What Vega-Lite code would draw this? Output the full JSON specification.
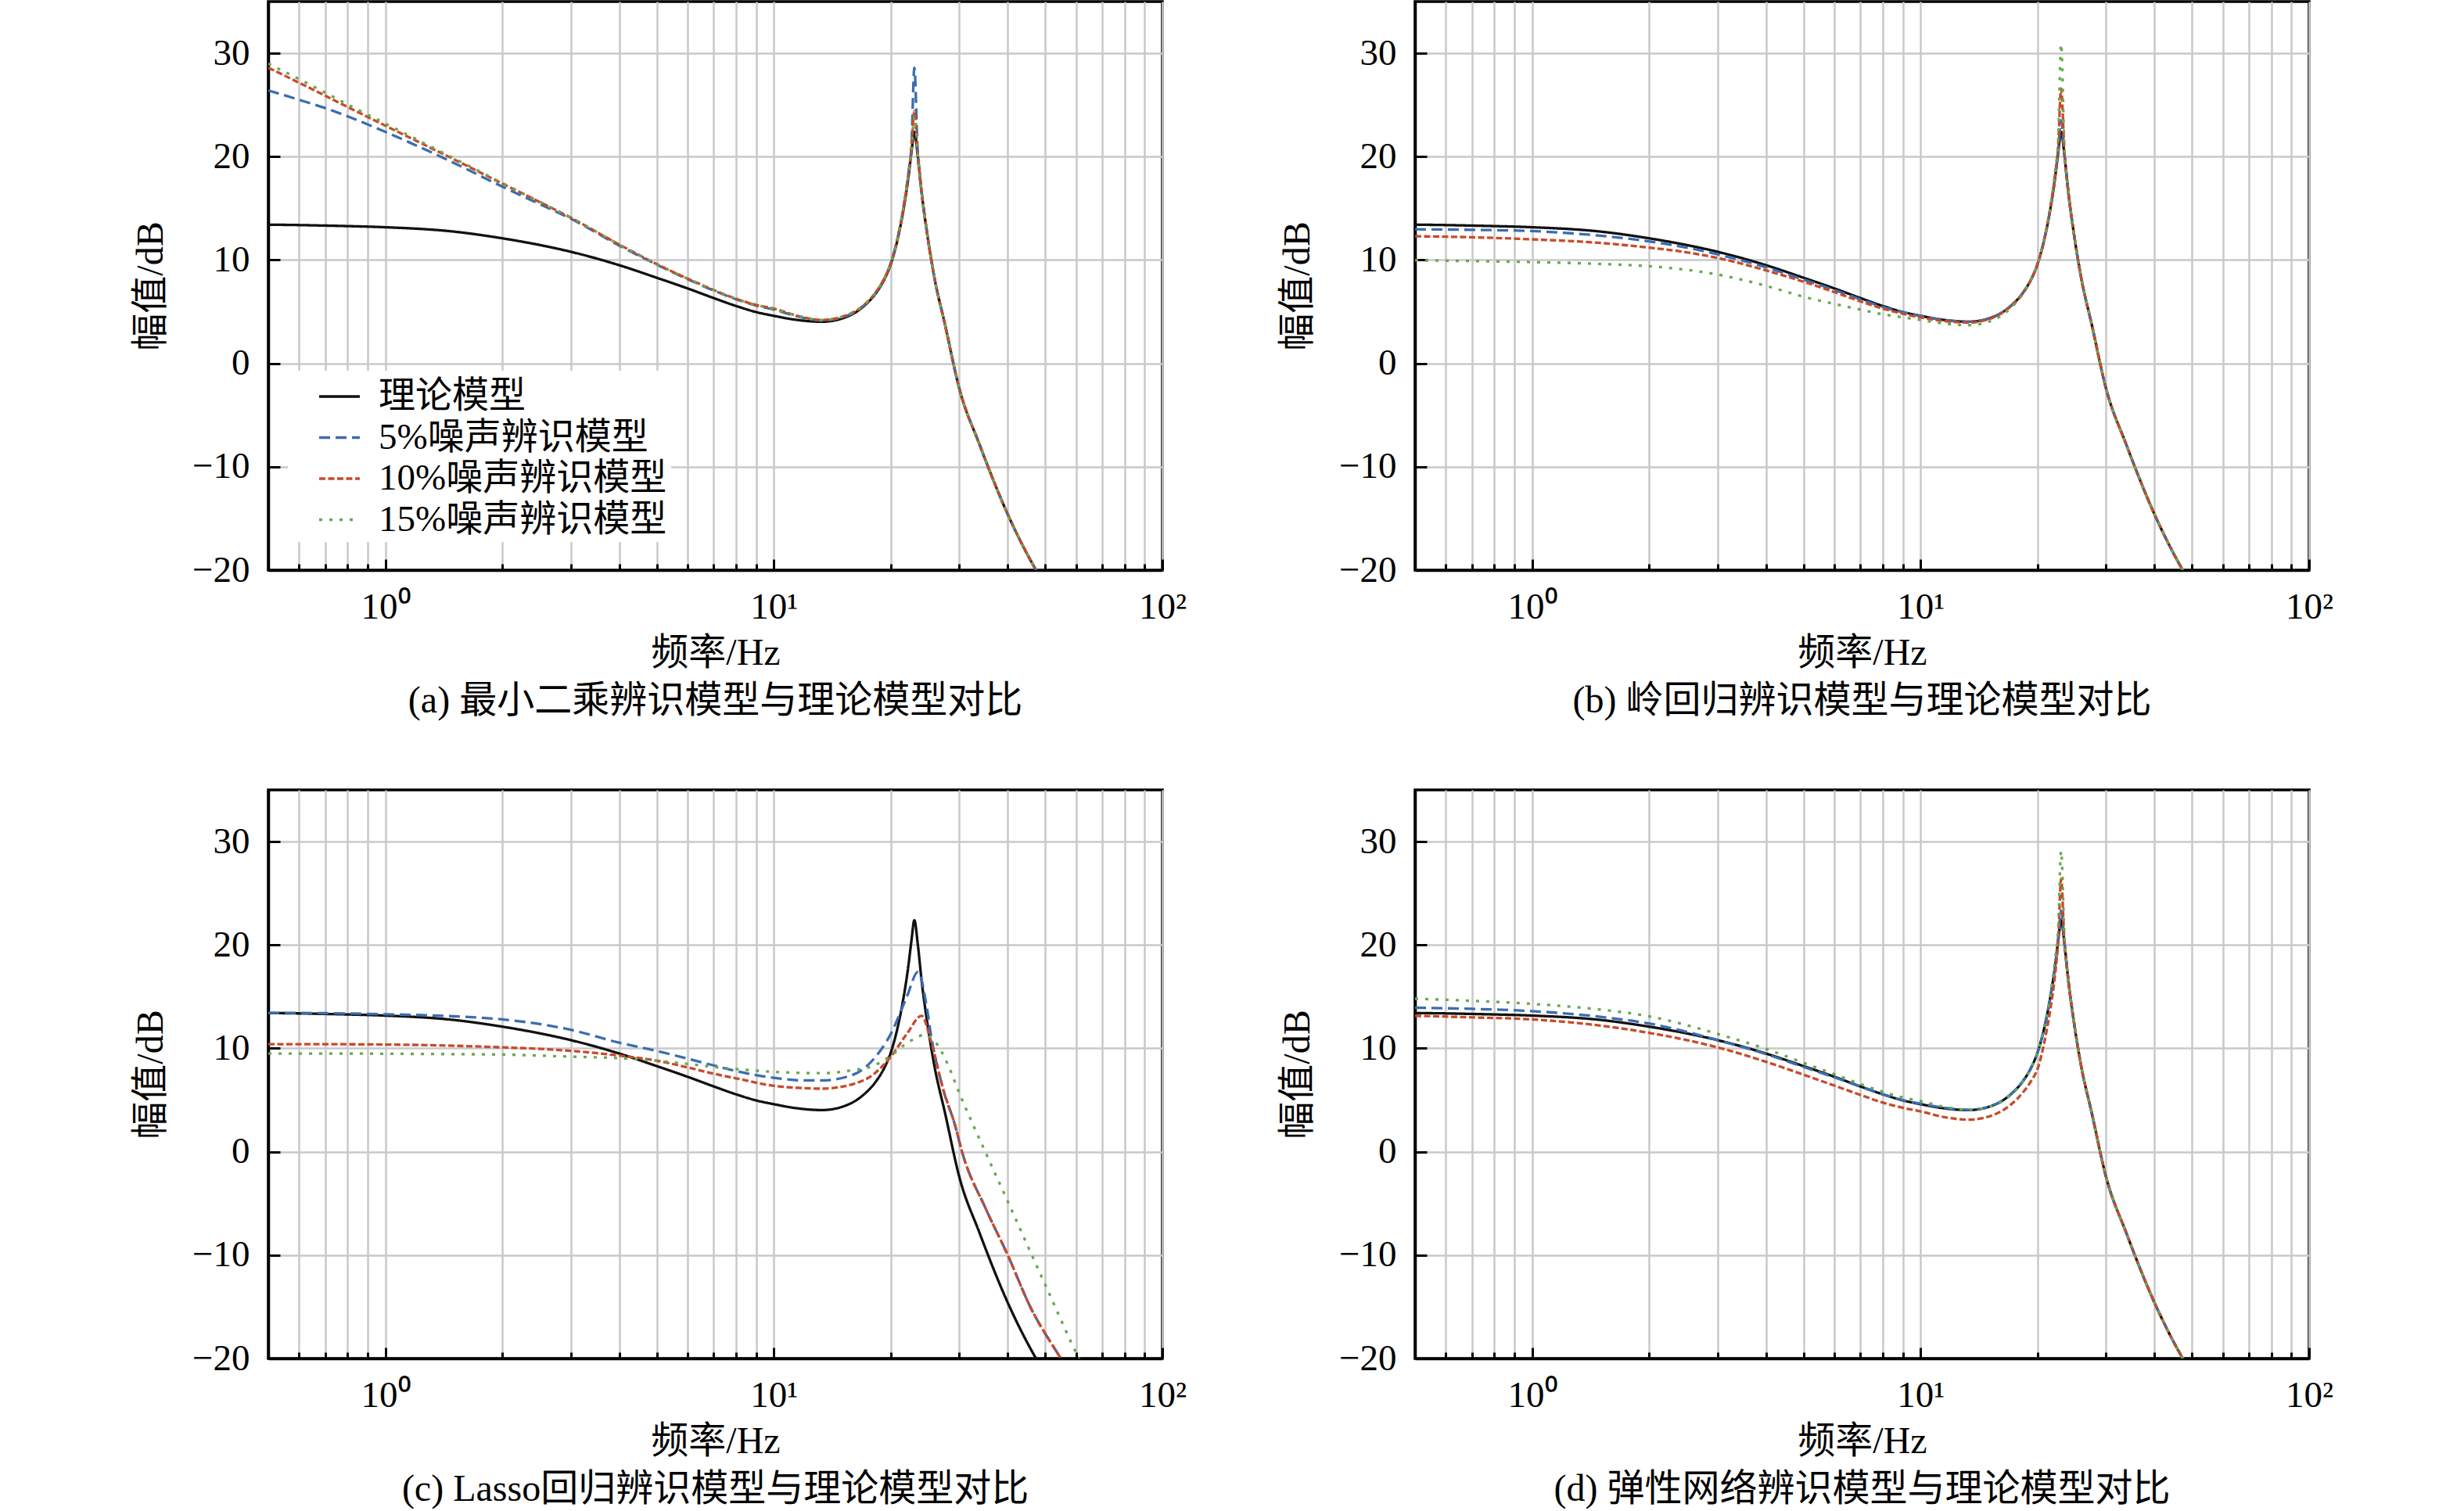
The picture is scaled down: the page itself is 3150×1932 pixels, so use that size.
{
  "$schema": "https://vega.github.io/schema/vega-lite/v6.json",
  "padding": {"left": 167, "top": 0, "right": 0, "bottom": 0},
  "background": "white",
  "datasets": {
    "theory": [
      {"model": "理论模型", "f": 0.5, "db": 13.42}, {"model": "理论模型", "f": 0.6, "db": 13.38},
      {"model": "理论模型", "f": 0.7, "db": 13.33}, {"model": "理论模型", "f": 0.8, "db": 13.28},
      {"model": "理论模型", "f": 1, "db": 13.17}, {"model": "理论模型", "f": 1.5, "db": 12.75},
      {"model": "理论模型", "f": 2, "db": 12.1}, {"model": "理论模型", "f": 2.5, "db": 11.45},
      {"model": "理论模型", "f": 3, "db": 10.8}, {"model": "理论模型", "f": 4, "db": 9.5},
      {"model": "理论模型", "f": 5, "db": 8.28}, {"model": "理论模型", "f": 6, "db": 7.25},
      {"model": "理论模型", "f": 7, "db": 6.32}, {"model": "理论模型", "f": 8, "db": 5.55},
      {"model": "理论模型", "f": 9, "db": 4.97}, {"model": "理论模型", "f": 10, "db": 4.6},
      {"model": "理论模型", "f": 11.5, "db": 4.2}, {"model": "理论模型", "f": 13.3, "db": 4.03},
      {"model": "理论模型", "f": 15.5, "db": 4.55}, {"model": "理论模型", "f": 17, "db": 5.5},
      {"model": "理论模型", "f": 18.4, "db": 6.9}, {"model": "理论模型", "f": 19.3, "db": 8.2},
      {"model": "理论模型", "f": 20, "db": 9.6}, {"model": "理论模型", "f": 20.85, "db": 12.1},
      {"model": "理论模型", "f": 21.5, "db": 14.6}, {"model": "理论模型", "f": 22.2, "db": 18.0},
      {"model": "理论模型", "f": 22.6, "db": 20.4}, {"model": "理论模型", "f": 23.0, "db": 22.4},
      {"model": "理论模型", "f": 23.45, "db": 20.2}, {"model": "理论模型", "f": 24.0, "db": 16.6},
      {"model": "理论模型", "f": 24.8, "db": 12.6}, {"model": "理论模型", "f": 25.9, "db": 8.3},
      {"model": "理论模型", "f": 27.6, "db": 3.7}, {"model": "理论模型", "f": 30, "db": -2.4},
      {"model": "理论模型", "f": 33.8, "db": -7.8}, {"model": "理论模型", "f": 40, "db": -14.6},
      {"model": "理论模型", "f": 47.3, "db": -20.0}, {"model": "理论模型", "f": 50, "db": -21.5}
    ],
    "noise": [
      {"panel": "a", "model": "5%噪声辨识模型", "f": 0.5, "db": 26.4}, {"panel": "a", "model": "5%噪声辨识模型", "f": 0.6, "db": 25.5},
      {"panel": "a", "model": "5%噪声辨识模型", "f": 0.7, "db": 24.7}, {"panel": "a", "model": "5%噪声辨识模型", "f": 0.8, "db": 23.9},
      {"panel": "a", "model": "5%噪声辨识模型", "f": 1, "db": 22.4}, {"panel": "a", "model": "5%噪声辨识模型", "f": 1.5, "db": 19.4},
      {"panel": "a", "model": "5%噪声辨识模型", "f": 2, "db": 17.1}, {"panel": "a", "model": "5%噪声辨识模型", "f": 2.5, "db": 15.4},
      {"panel": "a", "model": "5%噪声辨识模型", "f": 3, "db": 14.0}, {"panel": "a", "model": "5%噪声辨识模型", "f": 4, "db": 11.4},
      {"panel": "a", "model": "5%噪声辨识模型", "f": 5, "db": 9.55}, {"panel": "a", "model": "5%噪声辨识模型", "f": 6, "db": 8.15},
      {"panel": "a", "model": "5%噪声辨识模型", "f": 7, "db": 7.05}, {"panel": "a", "model": "5%噪声辨识模型", "f": 8, "db": 6.2},
      {"panel": "a", "model": "5%噪声辨识模型", "f": 9, "db": 5.6}, {"panel": "a", "model": "5%噪声辨识模型", "f": 10, "db": 5.2},
      {"panel": "a", "model": "5%噪声辨识模型", "f": 11.5, "db": 4.55}, {"panel": "a", "model": "5%噪声辨识模型", "f": 13.3, "db": 4.15},
      {"panel": "a", "model": "5%噪声辨识模型", "f": 15.5, "db": 4.65}, {"panel": "a", "model": "5%噪声辨识模型", "f": 17, "db": 5.55},
      {"panel": "a", "model": "5%噪声辨识模型", "f": 18.4, "db": 7.0}, {"panel": "a", "model": "5%噪声辨识模型", "f": 19.3, "db": 8.3},
      {"panel": "a", "model": "5%噪声辨识模型", "f": 20, "db": 9.7}, {"panel": "a", "model": "5%噪声辨识模型", "f": 20.85, "db": 12.2},
      {"panel": "a", "model": "5%噪声辨识模型", "f": 21.5, "db": 14.8}, {"panel": "a", "model": "5%噪声辨识模型", "f": 22.2, "db": 18.4},
      {"panel": "a", "model": "5%噪声辨识模型", "f": 22.6, "db": 21.0}, {"panel": "a", "model": "5%噪声辨识模型", "f": 23.0, "db": 28.6},
      {"panel": "a", "model": "5%噪声辨识模型", "f": 23.45, "db": 20.6}, {"panel": "a", "model": "5%噪声辨识模型", "f": 24.0, "db": 16.6},
      {"panel": "a", "model": "5%噪声辨识模型", "f": 24.8, "db": 12.6}, {"panel": "a", "model": "5%噪声辨识模型", "f": 25.9, "db": 8.3},
      {"panel": "a", "model": "5%噪声辨识模型", "f": 27.6, "db": 3.7}, {"panel": "a", "model": "5%噪声辨识模型", "f": 30, "db": -2.4},
      {"panel": "a", "model": "5%噪声辨识模型", "f": 33.8, "db": -7.8}, {"panel": "a", "model": "5%噪声辨识模型", "f": 40, "db": -14.6},
      {"panel": "a", "model": "5%噪声辨识模型", "f": 47.3, "db": -20.0}, {"panel": "a", "model": "5%噪声辨识模型", "f": 50, "db": -21.5},

      {"panel": "a", "model": "10%噪声辨识模型", "f": 0.5, "db": 28.6}, {"panel": "a", "model": "10%噪声辨识模型", "f": 0.6, "db": 27.15},
      {"panel": "a", "model": "10%噪声辨识模型", "f": 0.7, "db": 25.9}, {"panel": "a", "model": "10%噪声辨识模型", "f": 0.8, "db": 24.8},
      {"panel": "a", "model": "10%噪声辨识模型", "f": 1, "db": 23.0}, {"panel": "a", "model": "10%噪声辨识模型", "f": 1.5, "db": 19.75},
      {"panel": "a", "model": "10%噪声辨识模型", "f": 2, "db": 17.4}, {"panel": "a", "model": "10%噪声辨识模型", "f": 2.5, "db": 15.6},
      {"panel": "a", "model": "10%噪声辨识模型", "f": 3, "db": 14.1}, {"panel": "a", "model": "10%噪声辨识模型", "f": 4, "db": 11.5},
      {"panel": "a", "model": "10%噪声辨识模型", "f": 5, "db": 9.6}, {"panel": "a", "model": "10%噪声辨识模型", "f": 6, "db": 8.2},
      {"panel": "a", "model": "10%噪声辨识模型", "f": 7, "db": 7.1}, {"panel": "a", "model": "10%噪声辨识模型", "f": 8, "db": 6.25},
      {"panel": "a", "model": "10%噪声辨识模型", "f": 9, "db": 5.65}, {"panel": "a", "model": "10%噪声辨识模型", "f": 10, "db": 5.3},
      {"panel": "a", "model": "10%噪声辨识模型", "f": 11.5, "db": 4.6}, {"panel": "a", "model": "10%噪声辨识模型", "f": 13.3, "db": 4.2},
      {"panel": "a", "model": "10%噪声辨识模型", "f": 15.5, "db": 4.7}, {"panel": "a", "model": "10%噪声辨识模型", "f": 17, "db": 5.6},
      {"panel": "a", "model": "10%噪声辨识模型", "f": 18.4, "db": 7.0}, {"panel": "a", "model": "10%噪声辨识模型", "f": 19.3, "db": 8.3},
      {"panel": "a", "model": "10%噪声辨识模型", "f": 20, "db": 9.7}, {"panel": "a", "model": "10%噪声辨识模型", "f": 20.85, "db": 12.2},
      {"panel": "a", "model": "10%噪声辨识模型", "f": 21.5, "db": 14.8}, {"panel": "a", "model": "10%噪声辨识模型", "f": 22.2, "db": 18.3},
      {"panel": "a", "model": "10%噪声辨识模型", "f": 22.6, "db": 20.8}, {"panel": "a", "model": "10%噪声辨识模型", "f": 23.0, "db": 24.4},
      {"panel": "a", "model": "10%噪声辨识模型", "f": 23.45, "db": 20.4}, {"panel": "a", "model": "10%噪声辨识模型", "f": 24.0, "db": 16.6},
      {"panel": "a", "model": "10%噪声辨识模型", "f": 24.8, "db": 12.6}, {"panel": "a", "model": "10%噪声辨识模型", "f": 25.9, "db": 8.3},
      {"panel": "a", "model": "10%噪声辨识模型", "f": 27.6, "db": 3.7}, {"panel": "a", "model": "10%噪声辨识模型", "f": 30, "db": -2.4},
      {"panel": "a", "model": "10%噪声辨识模型", "f": 33.8, "db": -7.8}, {"panel": "a", "model": "10%噪声辨识模型", "f": 40, "db": -14.6},
      {"panel": "a", "model": "10%噪声辨识模型", "f": 47.3, "db": -20.0}, {"panel": "a", "model": "10%噪声辨识模型", "f": 50, "db": -21.5},

      {"panel": "a", "model": "15%噪声辨识模型", "f": 0.5, "db": 29.0}, {"panel": "a", "model": "15%噪声辨识模型", "f": 0.6, "db": 27.5},
      {"panel": "a", "model": "15%噪声辨识模型", "f": 0.7, "db": 26.2}, {"panel": "a", "model": "15%噪声辨识模型", "f": 0.8, "db": 25.05},
      {"panel": "a", "model": "15%噪声辨识模型", "f": 1, "db": 23.2}, {"panel": "a", "model": "15%噪声辨识模型", "f": 1.5, "db": 19.85},
      {"panel": "a", "model": "15%噪声辨识模型", "f": 2, "db": 17.45}, {"panel": "a", "model": "15%噪声辨识模型", "f": 2.5, "db": 15.62},
      {"panel": "a", "model": "15%噪声辨识模型", "f": 3, "db": 14.12}, {"panel": "a", "model": "15%噪声辨识模型", "f": 4, "db": 11.5},
      {"panel": "a", "model": "15%噪声辨识模型", "f": 5, "db": 9.6}, {"panel": "a", "model": "15%噪声辨识模型", "f": 6, "db": 8.2},
      {"panel": "a", "model": "15%噪声辨识模型", "f": 7, "db": 7.1}, {"panel": "a", "model": "15%噪声辨识模型", "f": 8, "db": 6.25},
      {"panel": "a", "model": "15%噪声辨识模型", "f": 9, "db": 5.65}, {"panel": "a", "model": "15%噪声辨识模型", "f": 10, "db": 5.3},
      {"panel": "a", "model": "15%噪声辨识模型", "f": 11.5, "db": 4.6}, {"panel": "a", "model": "15%噪声辨识模型", "f": 13.3, "db": 4.2},
      {"panel": "a", "model": "15%噪声辨识模型", "f": 15.5, "db": 4.7}, {"panel": "a", "model": "15%噪声辨识模型", "f": 17, "db": 5.6},
      {"panel": "a", "model": "15%噪声辨识模型", "f": 18.4, "db": 7.0}, {"panel": "a", "model": "15%噪声辨识模型", "f": 19.3, "db": 8.3},
      {"panel": "a", "model": "15%噪声辨识模型", "f": 20, "db": 9.7}, {"panel": "a", "model": "15%噪声辨识模型", "f": 20.85, "db": 12.2},
      {"panel": "a", "model": "15%噪声辨识模型", "f": 21.5, "db": 14.8}, {"panel": "a", "model": "15%噪声辨识模型", "f": 22.2, "db": 18.2},
      {"panel": "a", "model": "15%噪声辨识模型", "f": 22.6, "db": 20.6}, {"panel": "a", "model": "15%噪声辨识模型", "f": 23.0, "db": 23.9},
      {"panel": "a", "model": "15%噪声辨识模型", "f": 23.45, "db": 20.3}, {"panel": "a", "model": "15%噪声辨识模型", "f": 24.0, "db": 16.6},
      {"panel": "a", "model": "15%噪声辨识模型", "f": 24.8, "db": 12.6}, {"panel": "a", "model": "15%噪声辨识模型", "f": 25.9, "db": 8.3},
      {"panel": "a", "model": "15%噪声辨识模型", "f": 27.6, "db": 3.7}, {"panel": "a", "model": "15%噪声辨识模型", "f": 30, "db": -2.4},
      {"panel": "a", "model": "15%噪声辨识模型", "f": 33.8, "db": -7.8}, {"panel": "a", "model": "15%噪声辨识模型", "f": 40, "db": -14.6},
      {"panel": "a", "model": "15%噪声辨识模型", "f": 47.3, "db": -20.0}, {"panel": "a", "model": "15%噪声辨识模型", "f": 50, "db": -21.5},

      {"panel": "b", "model": "5%噪声辨识模型", "f": 0.5, "db": 12.97}, {"panel": "b", "model": "5%噪声辨识模型", "f": 0.7, "db": 12.92},
      {"panel": "b", "model": "5%噪声辨识模型", "f": 1, "db": 12.8}, {"panel": "b", "model": "5%噪声辨识模型", "f": 1.5, "db": 12.35},
      {"panel": "b", "model": "5%噪声辨识模型", "f": 2, "db": 11.8}, {"panel": "b", "model": "5%噪声辨识模型", "f": 2.5, "db": 11.2},
      {"panel": "b", "model": "5%噪声辨识模型", "f": 3, "db": 10.55}, {"panel": "b", "model": "5%噪声辨识模型", "f": 4, "db": 9.3},
      {"panel": "b", "model": "5%噪声辨识模型", "f": 5, "db": 8.1}, {"panel": "b", "model": "5%噪声辨识模型", "f": 6, "db": 7.1},
      {"panel": "b", "model": "5%噪声辨识模型", "f": 7, "db": 6.2}, {"panel": "b", "model": "5%噪声辨识模型", "f": 8, "db": 5.45},
      {"panel": "b", "model": "5%噪声辨识模型", "f": 9, "db": 4.95}, {"panel": "b", "model": "5%噪声辨识模型", "f": 10, "db": 4.6},
      {"panel": "b", "model": "5%噪声辨识模型", "f": 11.5, "db": 4.2}, {"panel": "b", "model": "5%噪声辨识模型", "f": 13.3, "db": 4.03},
      {"panel": "b", "model": "5%噪声辨识模型", "f": 15.5, "db": 4.55}, {"panel": "b", "model": "5%噪声辨识模型", "f": 17, "db": 5.5},
      {"panel": "b", "model": "5%噪声辨识模型", "f": 18.4, "db": 6.9}, {"panel": "b", "model": "5%噪声辨识模型", "f": 19.3, "db": 8.2},
      {"panel": "b", "model": "5%噪声辨识模型", "f": 20, "db": 9.6}, {"panel": "b", "model": "5%噪声辨识模型", "f": 20.85, "db": 12.1},
      {"panel": "b", "model": "5%噪声辨识模型", "f": 21.5, "db": 14.6}, {"panel": "b", "model": "5%噪声辨识模型", "f": 22.2, "db": 18.0},
      {"panel": "b", "model": "5%噪声辨识模型", "f": 22.6, "db": 20.6}, {"panel": "b", "model": "5%噪声辨识模型", "f": 23.0, "db": 23.5},
      {"panel": "b", "model": "5%噪声辨识模型", "f": 23.45, "db": 20.3}, {"panel": "b", "model": "5%噪声辨识模型", "f": 24.0, "db": 16.6},
      {"panel": "b", "model": "5%噪声辨识模型", "f": 24.8, "db": 12.6}, {"panel": "b", "model": "5%噪声辨识模型", "f": 25.9, "db": 8.3},
      {"panel": "b", "model": "5%噪声辨识模型", "f": 27.6, "db": 3.7}, {"panel": "b", "model": "5%噪声辨识模型", "f": 30, "db": -2.4},
      {"panel": "b", "model": "5%噪声辨识模型", "f": 33.8, "db": -7.8}, {"panel": "b", "model": "5%噪声辨识模型", "f": 40, "db": -14.6},
      {"panel": "b", "model": "5%噪声辨识模型", "f": 47.3, "db": -20.0}, {"panel": "b", "model": "5%噪声辨识模型", "f": 50, "db": -21.5},

      {"panel": "b", "model": "10%噪声辨识模型", "f": 0.5, "db": 12.3}, {"panel": "b", "model": "10%噪声辨识模型", "f": 0.7, "db": 12.2},
      {"panel": "b", "model": "10%噪声辨识模型", "f": 1, "db": 12.0}, {"panel": "b", "model": "10%噪声辨识模型", "f": 1.5, "db": 11.65},
      {"panel": "b", "model": "10%噪声辨识模型", "f": 2, "db": 11.2}, {"panel": "b", "model": "10%噪声辨识模型", "f": 2.5, "db": 10.75},
      {"panel": "b", "model": "10%噪声辨识模型", "f": 3, "db": 10.2}, {"panel": "b", "model": "10%噪声辨识模型", "f": 4, "db": 9.0},
      {"panel": "b", "model": "10%噪声辨识模型", "f": 5, "db": 7.9}, {"panel": "b", "model": "10%噪声辨识模型", "f": 6, "db": 6.9},
      {"panel": "b", "model": "10%噪声辨识模型", "f": 7, "db": 6.0}, {"panel": "b", "model": "10%噪声辨识模型", "f": 8, "db": 5.3},
      {"panel": "b", "model": "10%噪声辨识模型", "f": 9, "db": 4.8}, {"panel": "b", "model": "10%噪声辨识模型", "f": 10, "db": 4.45},
      {"panel": "b", "model": "10%噪声辨识模型", "f": 11.5, "db": 4.1}, {"panel": "b", "model": "10%噪声辨识模型", "f": 13.3, "db": 3.95},
      {"panel": "b", "model": "10%噪声辨识模型", "f": 15.5, "db": 4.5}, {"panel": "b", "model": "10%噪声辨识模型", "f": 17, "db": 5.45},
      {"panel": "b", "model": "10%噪声辨识模型", "f": 18.4, "db": 6.85}, {"panel": "b", "model": "10%噪声辨识模型", "f": 19.3, "db": 8.2},
      {"panel": "b", "model": "10%噪声辨识模型", "f": 20, "db": 9.6}, {"panel": "b", "model": "10%噪声辨识模型", "f": 20.85, "db": 12.1},
      {"panel": "b", "model": "10%噪声辨识模型", "f": 21.5, "db": 14.7}, {"panel": "b", "model": "10%噪声辨识模型", "f": 22.2, "db": 18.3},
      {"panel": "b", "model": "10%噪声辨识模型", "f": 22.6, "db": 21.0}, {"panel": "b", "model": "10%噪声辨识模型", "f": 23.0, "db": 26.6},
      {"panel": "b", "model": "10%噪声辨识模型", "f": 23.45, "db": 20.6}, {"panel": "b", "model": "10%噪声辨识模型", "f": 24.0, "db": 16.6},
      {"panel": "b", "model": "10%噪声辨识模型", "f": 24.8, "db": 12.6}, {"panel": "b", "model": "10%噪声辨识模型", "f": 25.9, "db": 8.3},
      {"panel": "b", "model": "10%噪声辨识模型", "f": 27.6, "db": 3.7}, {"panel": "b", "model": "10%噪声辨识模型", "f": 30, "db": -2.4},
      {"panel": "b", "model": "10%噪声辨识模型", "f": 33.8, "db": -7.8}, {"panel": "b", "model": "10%噪声辨识模型", "f": 40, "db": -14.6},
      {"panel": "b", "model": "10%噪声辨识模型", "f": 47.3, "db": -20.0}, {"panel": "b", "model": "10%噪声辨识模型", "f": 50, "db": -21.5},

      {"panel": "b", "model": "15%噪声辨识模型", "f": 0.5, "db": 9.97}, {"panel": "b", "model": "15%噪声辨识模型", "f": 0.7, "db": 9.9},
      {"panel": "b", "model": "15%噪声辨识模型", "f": 1, "db": 9.8}, {"panel": "b", "model": "15%噪声辨识模型", "f": 1.5, "db": 9.62},
      {"panel": "b", "model": "15%噪声辨识模型", "f": 2, "db": 9.4}, {"panel": "b", "model": "15%噪声辨识模型", "f": 2.5, "db": 9.05},
      {"panel": "b", "model": "15%噪声辨识模型", "f": 3, "db": 8.6}, {"panel": "b", "model": "15%噪声辨识模型", "f": 4, "db": 7.5},
      {"panel": "b", "model": "15%噪声辨识模型", "f": 5, "db": 6.45}, {"panel": "b", "model": "15%噪声辨识模型", "f": 6, "db": 5.75},
      {"panel": "b", "model": "15%噪声辨识模型", "f": 7, "db": 5.2}, {"panel": "b", "model": "15%噪声辨识模型", "f": 8, "db": 4.75},
      {"panel": "b", "model": "15%噪声辨识模型", "f": 9, "db": 4.45}, {"panel": "b", "model": "15%噪声辨识模型", "f": 10, "db": 4.2},
      {"panel": "b", "model": "15%噪声辨识模型", "f": 11.5, "db": 3.85}, {"panel": "b", "model": "15%噪声辨识模型", "f": 13.3, "db": 3.7},
      {"panel": "b", "model": "15%噪声辨识模型", "f": 15.5, "db": 4.25}, {"panel": "b", "model": "15%噪声辨识模型", "f": 17, "db": 5.3},
      {"panel": "b", "model": "15%噪声辨识模型", "f": 18.4, "db": 6.8}, {"panel": "b", "model": "15%噪声辨识模型", "f": 19.3, "db": 8.2},
      {"panel": "b", "model": "15%噪声辨识模型", "f": 20, "db": 9.6}, {"panel": "b", "model": "15%噪声辨识模型", "f": 20.85, "db": 12.2},
      {"panel": "b", "model": "15%噪声辨识模型", "f": 21.5, "db": 14.8}, {"panel": "b", "model": "15%噪声辨识模型", "f": 22.2, "db": 18.6},
      {"panel": "b", "model": "15%噪声辨识模型", "f": 22.6, "db": 21.5}, {"panel": "b", "model": "15%噪声辨识模型", "f": 23.0, "db": 30.9},
      {"panel": "b", "model": "15%噪声辨识模型", "f": 23.45, "db": 21.0}, {"panel": "b", "model": "15%噪声辨识模型", "f": 24.0, "db": 16.6},
      {"panel": "b", "model": "15%噪声辨识模型", "f": 24.8, "db": 12.6}, {"panel": "b", "model": "15%噪声辨识模型", "f": 25.9, "db": 8.3},
      {"panel": "b", "model": "15%噪声辨识模型", "f": 27.6, "db": 3.7}, {"panel": "b", "model": "15%噪声辨识模型", "f": 30, "db": -2.4},
      {"panel": "b", "model": "15%噪声辨识模型", "f": 33.8, "db": -7.8}, {"panel": "b", "model": "15%噪声辨识模型", "f": 40, "db": -14.6},
      {"panel": "b", "model": "15%噪声辨识模型", "f": 47.3, "db": -20.0}, {"panel": "b", "model": "15%噪声辨识模型", "f": 50, "db": -21.5},

      {"panel": "c", "model": "5%噪声辨识模型", "f": 0.5, "db": 13.43}, {"panel": "c", "model": "5%噪声辨识模型", "f": 0.7, "db": 13.4},
      {"panel": "c", "model": "5%噪声辨识模型", "f": 1, "db": 13.3}, {"panel": "c", "model": "5%噪声辨识模型", "f": 1.5, "db": 13.1},
      {"panel": "c", "model": "5%噪声辨识模型", "f": 2, "db": 12.8}, {"panel": "c", "model": "5%噪声辨识模型", "f": 2.5, "db": 12.35},
      {"panel": "c", "model": "5%噪声辨识模型", "f": 3, "db": 11.8}, {"panel": "c", "model": "5%噪声辨识模型", "f": 4, "db": 10.55},
      {"panel": "c", "model": "5%噪声辨识模型", "f": 5, "db": 9.75}, {"panel": "c", "model": "5%噪声辨识模型", "f": 6, "db": 9.0},
      {"panel": "c", "model": "5%噪声辨识模型", "f": 7, "db": 8.35}, {"panel": "c", "model": "5%噪声辨识模型", "f": 8, "db": 7.8},
      {"panel": "c", "model": "5%噪声辨识模型", "f": 10, "db": 7.15}, {"panel": "c", "model": "5%噪声辨识模型", "f": 12, "db": 6.9},
      {"panel": "c", "model": "5%噪声辨识模型", "f": 13.3, "db": 6.9}, {"panel": "c", "model": "5%噪声辨识模型", "f": 16, "db": 7.45},
      {"panel": "c", "model": "5%噪声辨识模型", "f": 18, "db": 8.9}, {"panel": "c", "model": "5%噪声辨识模型", "f": 20, "db": 11.4},
      {"panel": "c", "model": "5%噪声辨识模型", "f": 22, "db": 15.0}, {"panel": "c", "model": "5%噪声辨识模型", "f": 23.5, "db": 17.4},
      {"panel": "c", "model": "5%噪声辨识模型", "f": 24.7, "db": 14.2}, {"panel": "c", "model": "5%噪声辨识模型", "f": 25.4, "db": 11.2},
      {"panel": "c", "model": "5%噪声辨识模型", "f": 27.3, "db": 6.0}, {"panel": "c", "model": "5%噪声辨识模型", "f": 29.3, "db": 2.5},
      {"panel": "c", "model": "5%噪声辨识模型", "f": 30.5, "db": 0}, {"panel": "c", "model": "5%噪声辨识模型", "f": 35, "db": -5.4},
      {"panel": "c", "model": "5%噪声辨识模型", "f": 40, "db": -10}, {"panel": "c", "model": "5%噪声辨识模型", "f": 45.7, "db": -15},
      {"panel": "c", "model": "5%噪声辨识模型", "f": 54.8, "db": -20}, {"panel": "c", "model": "5%噪声辨识模型", "f": 58, "db": -21.5},

      {"panel": "c", "model": "10%噪声辨识模型", "f": 0.5, "db": 10.4}, {"panel": "c", "model": "10%噪声辨识模型", "f": 0.7, "db": 10.4},
      {"panel": "c", "model": "10%噪声辨识模型", "f": 1, "db": 10.37}, {"panel": "c", "model": "10%噪声辨识模型", "f": 1.5, "db": 10.25},
      {"panel": "c", "model": "10%噪声辨识模型", "f": 2, "db": 10.1}, {"panel": "c", "model": "10%噪声辨识模型", "f": 2.5, "db": 9.95},
      {"panel": "c", "model": "10%噪声辨识模型", "f": 3, "db": 9.76}, {"panel": "c", "model": "10%噪声辨识模型", "f": 4, "db": 9.3},
      {"panel": "c", "model": "10%噪声辨识模型", "f": 5, "db": 8.8}, {"panel": "c", "model": "10%噪声辨识模型", "f": 6, "db": 8.16},
      {"panel": "c", "model": "10%噪声辨识模型", "f": 7, "db": 7.55}, {"panel": "c", "model": "10%噪声辨识模型", "f": 8, "db": 7.1},
      {"panel": "c", "model": "10%噪声辨识模型", "f": 10, "db": 6.38}, {"panel": "c", "model": "10%噪声辨识模型", "f": 12, "db": 6.15},
      {"panel": "c", "model": "10%噪声辨识模型", "f": 13.3, "db": 6.1}, {"panel": "c", "model": "10%噪声辨识模型", "f": 16, "db": 6.55},
      {"panel": "c", "model": "10%噪声辨识模型", "f": 18, "db": 7.45}, {"panel": "c", "model": "10%噪声辨识模型", "f": 20, "db": 9.2},
      {"panel": "c", "model": "10%噪声辨识模型", "f": 22, "db": 11.4}, {"panel": "c", "model": "10%噪声辨识模型", "f": 24, "db": 13.15},
      {"panel": "c", "model": "10%噪声辨识模型", "f": 25.4, "db": 10.65}, {"panel": "c", "model": "10%噪声辨识模型", "f": 27.3, "db": 6.0},
      {"panel": "c", "model": "10%噪声辨识模型", "f": 29.3, "db": 2.5}, {"panel": "c", "model": "10%噪声辨识模型", "f": 30.5, "db": 0},
      {"panel": "c", "model": "10%噪声辨识模型", "f": 35, "db": -5.4}, {"panel": "c", "model": "10%噪声辨识模型", "f": 40, "db": -10},
      {"panel": "c", "model": "10%噪声辨识模型", "f": 45.7, "db": -15}, {"panel": "c", "model": "10%噪声辨识模型", "f": 54.8, "db": -20},
      {"panel": "c", "model": "10%噪声辨识模型", "f": 58, "db": -21.5},

      {"panel": "c", "model": "15%噪声辨识模型", "f": 0.5, "db": 9.5}, {"panel": "c", "model": "15%噪声辨识模型", "f": 0.7, "db": 9.5},
      {"panel": "c", "model": "15%噪声辨识模型", "f": 1, "db": 9.48}, {"panel": "c", "model": "15%噪声辨识模型", "f": 1.5, "db": 9.44},
      {"panel": "c", "model": "15%噪声辨识模型", "f": 2, "db": 9.4}, {"panel": "c", "model": "15%噪声辨识模型", "f": 3, "db": 9.2},
      {"panel": "c", "model": "15%噪声辨识模型", "f": 4, "db": 9.05}, {"panel": "c", "model": "15%噪声辨识模型", "f": 5, "db": 8.8},
      {"panel": "c", "model": "15%噪声辨识模型", "f": 6, "db": 8.5}, {"panel": "c", "model": "15%噪声辨识模型", "f": 7, "db": 8.2},
      {"panel": "c", "model": "15%噪声辨识模型", "f": 8, "db": 8.0}, {"panel": "c", "model": "15%噪声辨识模型", "f": 10, "db": 7.73},
      {"panel": "c", "model": "15%噪声辨识模型", "f": 13.3, "db": 7.6}, {"panel": "c", "model": "15%噪声辨识模型", "f": 16, "db": 7.9},
      {"panel": "c", "model": "15%噪声辨识模型", "f": 18, "db": 8.3}, {"panel": "c", "model": "15%噪声辨识模型", "f": 20, "db": 9.3},
      {"panel": "c", "model": "15%噪声辨识模型", "f": 22, "db": 10.5}, {"panel": "c", "model": "15%噪声辨识模型", "f": 24.5, "db": 11.3},
      {"panel": "c", "model": "15%噪声辨识模型", "f": 26, "db": 10.65}, {"panel": "c", "model": "15%噪声辨识模型", "f": 28, "db": 8.5},
      {"panel": "c", "model": "15%噪声辨识模型", "f": 30, "db": 5.7}, {"panel": "c", "model": "15%噪声辨识模型", "f": 35, "db": 0},
      {"panel": "c", "model": "15%噪声辨识模型", "f": 40, "db": -4.8}, {"panel": "c", "model": "15%噪声辨识模型", "f": 45, "db": -9.1},
      {"panel": "c", "model": "15%噪声辨识模型", "f": 50, "db": -12.9}, {"panel": "c", "model": "15%噪声辨识模型", "f": 61, "db": -20},
      {"panel": "c", "model": "15%噪声辨识模型", "f": 65, "db": -22},

      {"panel": "d", "model": "5%噪声辨识模型", "f": 0.5, "db": 13.93}, {"panel": "d", "model": "5%噪声辨识模型", "f": 0.7, "db": 13.82},
      {"panel": "d", "model": "5%噪声辨识模型", "f": 1, "db": 13.6}, {"panel": "d", "model": "5%噪声辨识模型", "f": 1.5, "db": 13.05},
      {"panel": "d", "model": "5%噪声辨识模型", "f": 2, "db": 12.4}, {"panel": "d", "model": "5%噪声辨识模型", "f": 2.5, "db": 11.6},
      {"panel": "d", "model": "5%噪声辨识模型", "f": 3, "db": 10.8}, {"panel": "d", "model": "5%噪声辨识模型", "f": 4, "db": 9.45},
      {"panel": "d", "model": "5%噪声辨识模型", "f": 5, "db": 8.2}, {"panel": "d", "model": "5%噪声辨识模型", "f": 6, "db": 7.2},
      {"panel": "d", "model": "5%噪声辨识模型", "f": 7, "db": 6.3}, {"panel": "d", "model": "5%噪声辨识模型", "f": 8, "db": 5.55},
      {"panel": "d", "model": "5%噪声辨识模型", "f": 9, "db": 5.0}, {"panel": "d", "model": "5%噪声辨识模型", "f": 10, "db": 4.65},
      {"panel": "d", "model": "5%噪声辨识模型", "f": 11.5, "db": 4.25}, {"panel": "d", "model": "5%噪声辨识模型", "f": 13.3, "db": 4.05},
      {"panel": "d", "model": "5%噪声辨识模型", "f": 15.5, "db": 4.55}, {"panel": "d", "model": "5%噪声辨识模型", "f": 17, "db": 5.5},
      {"panel": "d", "model": "5%噪声辨识模型", "f": 18.4, "db": 6.9}, {"panel": "d", "model": "5%噪声辨识模型", "f": 19.3, "db": 8.2},
      {"panel": "d", "model": "5%噪声辨识模型", "f": 20, "db": 9.6}, {"panel": "d", "model": "5%噪声辨识模型", "f": 20.85, "db": 12.1},
      {"panel": "d", "model": "5%噪声辨识模型", "f": 21.5, "db": 14.6}, {"panel": "d", "model": "5%噪声辨识模型", "f": 22.2, "db": 18.0},
      {"panel": "d", "model": "5%噪声辨识模型", "f": 22.6, "db": 20.6}, {"panel": "d", "model": "5%噪声辨识模型", "f": 23.0, "db": 23.3},
      {"panel": "d", "model": "5%噪声辨识模型", "f": 23.45, "db": 20.3}, {"panel": "d", "model": "5%噪声辨识模型", "f": 24.0, "db": 16.6},
      {"panel": "d", "model": "5%噪声辨识模型", "f": 24.8, "db": 12.6}, {"panel": "d", "model": "5%噪声辨识模型", "f": 25.9, "db": 8.3},
      {"panel": "d", "model": "5%噪声辨识模型", "f": 27.6, "db": 3.7}, {"panel": "d", "model": "5%噪声辨识模型", "f": 30, "db": -2.4},
      {"panel": "d", "model": "5%噪声辨识模型", "f": 33.8, "db": -7.8}, {"panel": "d", "model": "5%噪声辨识模型", "f": 40, "db": -14.6},
      {"panel": "d", "model": "5%噪声辨识模型", "f": 47.3, "db": -20.0}, {"panel": "d", "model": "5%噪声辨识模型", "f": 50, "db": -21.5},

      {"panel": "d", "model": "10%噪声辨识模型", "f": 0.5, "db": 13.15}, {"panel": "d", "model": "10%噪声辨识模型", "f": 0.7, "db": 13.0},
      {"panel": "d", "model": "10%噪声辨识模型", "f": 1, "db": 12.8}, {"panel": "d", "model": "10%噪声辨识模型", "f": 1.5, "db": 12.2},
      {"panel": "d", "model": "10%噪声辨识模型", "f": 2, "db": 11.5}, {"panel": "d", "model": "10%噪声辨识模型", "f": 2.5, "db": 10.8},
      {"panel": "d", "model": "10%噪声辨识模型", "f": 3, "db": 10.1}, {"panel": "d", "model": "10%噪声辨识模型", "f": 4, "db": 8.7},
      {"panel": "d", "model": "10%噪声辨识模型", "f": 5, "db": 7.45}, {"panel": "d", "model": "10%噪声辨识模型", "f": 6, "db": 6.4},
      {"panel": "d", "model": "10%噪声辨识模型", "f": 7, "db": 5.5}, {"panel": "d", "model": "10%噪声辨识模型", "f": 8, "db": 4.75},
      {"panel": "d", "model": "10%噪声辨识模型", "f": 9, "db": 4.25}, {"panel": "d", "model": "10%噪声辨识模型", "f": 10, "db": 3.9},
      {"panel": "d", "model": "10%噪声辨识模型", "f": 11.5, "db": 3.35}, {"panel": "d", "model": "10%噪声辨识模型", "f": 13.3, "db": 3.1},
      {"panel": "d", "model": "10%噪声辨识模型", "f": 15.5, "db": 3.6}, {"panel": "d", "model": "10%噪声辨识模型", "f": 17, "db": 4.5},
      {"panel": "d", "model": "10%噪声辨识模型", "f": 18.4, "db": 5.8}, {"panel": "d", "model": "10%噪声辨识模型", "f": 19.3, "db": 6.9},
      {"panel": "d", "model": "10%噪声辨识模型", "f": 20, "db": 8.0}, {"panel": "d", "model": "10%噪声辨识模型", "f": 20.85, "db": 10.7},
      {"panel": "d", "model": "10%噪声辨识模型", "f": 21.5, "db": 13.4}, {"panel": "d", "model": "10%噪声辨识模型", "f": 22.2, "db": 17.2},
      {"panel": "d", "model": "10%噪声辨识模型", "f": 22.6, "db": 20.3}, {"panel": "d", "model": "10%噪声辨识模型", "f": 23.0, "db": 26.4},
      {"panel": "d", "model": "10%噪声辨识模型", "f": 23.45, "db": 20.4}, {"panel": "d", "model": "10%噪声辨识模型", "f": 24.0, "db": 16.6},
      {"panel": "d", "model": "10%噪声辨识模型", "f": 24.8, "db": 12.6}, {"panel": "d", "model": "10%噪声辨识模型", "f": 25.9, "db": 8.3},
      {"panel": "d", "model": "10%噪声辨识模型", "f": 27.6, "db": 3.7}, {"panel": "d", "model": "10%噪声辨识模型", "f": 30, "db": -2.4},
      {"panel": "d", "model": "10%噪声辨识模型", "f": 33.8, "db": -7.8}, {"panel": "d", "model": "10%噪声辨识模型", "f": 40, "db": -14.6},
      {"panel": "d", "model": "10%噪声辨识模型", "f": 47.3, "db": -20.0}, {"panel": "d", "model": "10%噪声辨识模型", "f": 50, "db": -21.5},

      {"panel": "d", "model": "15%噪声辨识模型", "f": 0.5, "db": 14.8}, {"panel": "d", "model": "15%噪声辨识模型", "f": 0.7, "db": 14.6},
      {"panel": "d", "model": "15%噪声辨识模型", "f": 1, "db": 14.3}, {"panel": "d", "model": "15%噪声辨识模型", "f": 1.5, "db": 13.75},
      {"panel": "d", "model": "15%噪声辨识模型", "f": 2, "db": 13.1}, {"panel": "d", "model": "15%噪声辨识模型", "f": 2.5, "db": 12.25},
      {"panel": "d", "model": "15%噪声辨识模型", "f": 3, "db": 11.4}, {"panel": "d", "model": "15%噪声辨识模型", "f": 4, "db": 9.95},
      {"panel": "d", "model": "15%噪声辨识模型", "f": 5, "db": 8.6}, {"panel": "d", "model": "15%噪声辨识模型", "f": 6, "db": 7.5},
      {"panel": "d", "model": "15%噪声辨识模型", "f": 7, "db": 6.55}, {"panel": "d", "model": "15%噪声辨识模型", "f": 8, "db": 5.8},
      {"panel": "d", "model": "15%噪声辨识模型", "f": 9, "db": 5.25}, {"panel": "d", "model": "15%噪声辨识模型", "f": 10, "db": 4.9},
      {"panel": "d", "model": "15%噪声辨识模型", "f": 11.5, "db": 4.35}, {"panel": "d", "model": "15%噪声辨识模型", "f": 13.3, "db": 4.06},
      {"panel": "d", "model": "15%噪声辨识模型", "f": 15.5, "db": 4.5}, {"panel": "d", "model": "15%噪声辨识模型", "f": 17, "db": 5.45},
      {"panel": "d", "model": "15%噪声辨识模型", "f": 18.4, "db": 6.85}, {"panel": "d", "model": "15%噪声辨识模型", "f": 19.3, "db": 8.2},
      {"panel": "d", "model": "15%噪声辨识模型", "f": 20, "db": 9.6}, {"panel": "d", "model": "15%噪声辨识模型", "f": 20.85, "db": 12.2},
      {"panel": "d", "model": "15%噪声辨识模型", "f": 21.5, "db": 14.8}, {"panel": "d", "model": "15%噪声辨识模型", "f": 22.2, "db": 18.6},
      {"panel": "d", "model": "15%噪声辨识模型", "f": 22.6, "db": 21.5}, {"panel": "d", "model": "15%噪声辨识模型", "f": 23.0, "db": 29.1},
      {"panel": "d", "model": "15%噪声辨识模型", "f": 23.45, "db": 21.0}, {"panel": "d", "model": "15%噪声辨识模型", "f": 24.0, "db": 16.6},
      {"panel": "d", "model": "15%噪声辨识模型", "f": 24.8, "db": 12.6}, {"panel": "d", "model": "15%噪声辨识模型", "f": 25.9, "db": 8.3},
      {"panel": "d", "model": "15%噪声辨识模型", "f": 27.6, "db": 3.7}, {"panel": "d", "model": "15%噪声辨识模型", "f": 30, "db": -2.4},
      {"panel": "d", "model": "15%噪声辨识模型", "f": 33.8, "db": -7.8}, {"panel": "d", "model": "15%噪声辨识模型", "f": 40, "db": -14.6},
      {"panel": "d", "model": "15%噪声辨识模型", "f": 47.3, "db": -20.0}, {"panel": "d", "model": "15%噪声辨识模型", "f": 50, "db": -21.5}
    ]
  },
  "columns": 2,
  "spacing": {"row": 85, "column": 114},
  "concat": [
    {
      "width": 1143, "height": 727,
      "title": {"text": "(a) 最小二乘辨识模型与理论模型对比"},
      "encoding": {
        "x": {"field": "f", "type": "quantitative", "title": "频率/Hz",
          "scale": {"type": "log", "domain": [0.5, 100], "nice": false},
          "axis": {"values": [0.6, 0.7, 0.8, 0.9, 1, 2, 3, 4, 5, 6, 7, 8, 9, 10, 20, 30, 40, 50, 60, 70, 80, 90, 100],
            "labelExpr": "datum.value == 1 ? '10⁰' : datum.value == 10 ? '10¹' : datum.value == 100 ? '10²' : ''",
            "tickSize": {"condition": {"test": "datum.value == 1 || datum.value == 10 || datum.value == 100", "value": -14}, "value": -8},
            "labelPadding": 38, "labelOverlap": false, "labelFlush": false, "titlePadding": 6}},
        "y": {"field": "db", "type": "quantitative", "title": "幅值/dB",
          "scale": {"domain": [-20, 35], "nice": false, "zero": false},
          "axis": {"values": [-20, -10, 0, 10, 20, 30], "tickSize": -15, "labelPadding": 39, "titlePadding": 28,
            "labelExpr": "datum.value < 0 ? '−' + (-datum.value) : datum.label"}},
        "color": {"field": "model", "type": "nominal",
          "scale": {"domain": ["理论模型", "5%噪声辨识模型", "10%噪声辨识模型", "15%噪声辨识模型"], "range": ["#111111", "#3a6db0", "#c84a2c", "#6aa84f"]},
          "legend": {"title": null, "orient": "none", "legendX": 25, "legendY": 472}},
        "strokeDash": {"field": "model", "type": "nominal",
          "scale": {"domain": ["理论模型", "5%噪声辨识模型", "10%噪声辨识模型", "15%噪声辨识模型"], "range": [[1, 0], [14, 7], [8, 3.5], [4, 9]]},
          "legend": {"title": null, "orient": "none", "legendX": 25, "legendY": 472}}
      },
      "layer": [
        {"data": {"name": "theory"}, "mark": {"type": "line", "clip": true, "interpolate": "monotone", "strokeWidth": 3.3}},
        {"data": {"name": "noise"}, "transform": [{"filter": "datum.panel == 'a'"}], "mark": {"type": "line", "clip": true, "interpolate": "monotone", "strokeWidth": 3.3}}
      ]
    },
    {
      "width": 1143, "height": 727,
      "title": {"text": "(b) 岭回归辨识模型与理论模型对比"},
      "encoding": {
        "x": {"field": "f", "type": "quantitative", "title": "频率/Hz",
          "scale": {"type": "log", "domain": [0.5, 100], "nice": false},
          "axis": {"values": [0.6, 0.7, 0.8, 0.9, 1, 2, 3, 4, 5, 6, 7, 8, 9, 10, 20, 30, 40, 50, 60, 70, 80, 90, 100],
            "labelExpr": "datum.value == 1 ? '10⁰' : datum.value == 10 ? '10¹' : datum.value == 100 ? '10²' : ''",
            "tickSize": {"condition": {"test": "datum.value == 1 || datum.value == 10 || datum.value == 100", "value": -14}, "value": -8},
            "labelPadding": 38, "labelOverlap": false, "labelFlush": false, "titlePadding": 6}},
        "y": {"field": "db", "type": "quantitative", "title": "幅值/dB",
          "scale": {"domain": [-20, 35], "nice": false, "zero": false},
          "axis": {"values": [-20, -10, 0, 10, 20, 30], "tickSize": -15, "labelPadding": 39, "titlePadding": 28,
            "labelExpr": "datum.value < 0 ? '−' + (-datum.value) : datum.label"}},
        "color": {"field": "model", "type": "nominal",
          "scale": {"domain": ["理论模型", "5%噪声辨识模型", "10%噪声辨识模型", "15%噪声辨识模型"], "range": ["#111111", "#3a6db0", "#c84a2c", "#6aa84f"]},
          "legend": {"title": null, "orient": "none", "legendX": 25, "legendY": 472}},
        "strokeDash": {"field": "model", "type": "nominal",
          "scale": {"domain": ["理论模型", "5%噪声辨识模型", "10%噪声辨识模型", "15%噪声辨识模型"], "range": [[1, 0], [14, 7], [8, 3.5], [4, 9]]},
          "legend": {"title": null, "orient": "none", "legendX": 25, "legendY": 472}}
      },
      "layer": [
        {"data": {"name": "theory"}, "mark": {"type": "line", "clip": true, "interpolate": "monotone", "strokeWidth": 3.3}},
        {"data": {"name": "noise"}, "transform": [{"filter": "datum.panel == 'b'"}], "mark": {"type": "line", "clip": true, "interpolate": "monotone", "strokeWidth": 3.3}}
      ]
    },
    {
      "width": 1143, "height": 727,
      "title": {"text": "(c) Lasso回归辨识模型与理论模型对比"},
      "encoding": {
        "x": {"field": "f", "type": "quantitative", "title": "频率/Hz",
          "scale": {"type": "log", "domain": [0.5, 100], "nice": false},
          "axis": {"values": [0.6, 0.7, 0.8, 0.9, 1, 2, 3, 4, 5, 6, 7, 8, 9, 10, 20, 30, 40, 50, 60, 70, 80, 90, 100],
            "labelExpr": "datum.value == 1 ? '10⁰' : datum.value == 10 ? '10¹' : datum.value == 100 ? '10²' : ''",
            "tickSize": {"condition": {"test": "datum.value == 1 || datum.value == 10 || datum.value == 100", "value": -14}, "value": -8},
            "labelPadding": 38, "labelOverlap": false, "labelFlush": false, "titlePadding": 6}},
        "y": {"field": "db", "type": "quantitative", "title": "幅值/dB",
          "scale": {"domain": [-20, 35], "nice": false, "zero": false},
          "axis": {"values": [-20, -10, 0, 10, 20, 30], "tickSize": -15, "labelPadding": 39, "titlePadding": 28,
            "labelExpr": "datum.value < 0 ? '−' + (-datum.value) : datum.label"}},
        "color": {"field": "model", "type": "nominal",
          "scale": {"domain": ["理论模型", "5%噪声辨识模型", "10%噪声辨识模型", "15%噪声辨识模型"], "range": ["#111111", "#3a6db0", "#c84a2c", "#6aa84f"]},
          "legend": {"title": null, "orient": "none", "legendX": 25, "legendY": 472}},
        "strokeDash": {"field": "model", "type": "nominal",
          "scale": {"domain": ["理论模型", "5%噪声辨识模型", "10%噪声辨识模型", "15%噪声辨识模型"], "range": [[1, 0], [14, 7], [8, 3.5], [4, 9]]},
          "legend": {"title": null, "orient": "none", "legendX": 25, "legendY": 472}}
      },
      "layer": [
        {"data": {"name": "theory"}, "mark": {"type": "line", "clip": true, "interpolate": "monotone", "strokeWidth": 3.3}},
        {"data": {"name": "noise"}, "transform": [{"filter": "datum.panel == 'c'"}], "mark": {"type": "line", "clip": true, "interpolate": "monotone", "strokeWidth": 3.3}}
      ]
    },
    {
      "width": 1143, "height": 727,
      "title": {"text": "(d) 弹性网络辨识模型与理论模型对比"},
      "encoding": {
        "x": {"field": "f", "type": "quantitative", "title": "频率/Hz",
          "scale": {"type": "log", "domain": [0.5, 100], "nice": false},
          "axis": {"values": [0.6, 0.7, 0.8, 0.9, 1, 2, 3, 4, 5, 6, 7, 8, 9, 10, 20, 30, 40, 50, 60, 70, 80, 90, 100],
            "labelExpr": "datum.value == 1 ? '10⁰' : datum.value == 10 ? '10¹' : datum.value == 100 ? '10²' : ''",
            "tickSize": {"condition": {"test": "datum.value == 1 || datum.value == 10 || datum.value == 100", "value": -14}, "value": -8},
            "labelPadding": 38, "labelOverlap": false, "labelFlush": false, "titlePadding": 6}},
        "y": {"field": "db", "type": "quantitative", "title": "幅值/dB",
          "scale": {"domain": [-20, 35], "nice": false, "zero": false},
          "axis": {"values": [-20, -10, 0, 10, 20, 30], "tickSize": -15, "labelPadding": 39, "titlePadding": 28,
            "labelExpr": "datum.value < 0 ? '−' + (-datum.value) : datum.label"}},
        "color": {"field": "model", "type": "nominal",
          "scale": {"domain": ["理论模型", "5%噪声辨识模型", "10%噪声辨识模型", "15%噪声辨识模型"], "range": ["#111111", "#3a6db0", "#c84a2c", "#6aa84f"]},
          "legend": {"title": null, "orient": "none", "legendX": 25, "legendY": 472}},
        "strokeDash": {"field": "model", "type": "nominal",
          "scale": {"domain": ["理论模型", "5%噪声辨识模型", "10%噪声辨识模型", "15%噪声辨识模型"], "range": [[1, 0], [14, 7], [8, 3.5], [4, 9]]},
          "legend": {"title": null, "orient": "none", "legendX": 25, "legendY": 472}}
      },
      "layer": [
        {"data": {"name": "theory"}, "mark": {"type": "line", "clip": true, "interpolate": "monotone", "strokeWidth": 3.3}},
        {"data": {"name": "noise"}, "transform": [{"filter": "datum.panel == 'd'"}], "mark": {"type": "line", "clip": true, "interpolate": "monotone", "strokeWidth": 3.3}}
      ]
    }
  ],
  "config": {
    "font": "Liberation Serif",
    "view": {"stroke": "black", "strokeWidth": 3.5},
    "axis": {
      "domainColor": "black", "domainWidth": 3.5,
      "tickColor": "black", "tickWidth": 3,
      "grid": true, "gridColor": "#c9c9c9", "gridWidth": 2.5,
      "labelFont": "Liberation Serif, Noto Sans CJK SC", "labelFontSize": 47, "labelColor": "black",
      "titleFont": "Liberation Serif, Noto Sans CJK SC", "titleFontSize": 48, "titleFontWeight": "normal", "titleColor": "black"
    },
    "title": {"orient": "bottom", "anchor": "middle", "offset": 14, "font": "Liberation Serif, Noto Sans CJK SC", "fontSize": 48, "fontWeight": "normal", "color": "black"},
    "legend": {
      "fillColor": "white", "padding": 5, "rowPadding": 1.5,
      "symbolType": "stroke", "symbolSize": 2704, "symbolStrokeWidth": 3.3, "symbolOffset": 33,
      "labelOffset": 22, "labelFont": "Liberation Serif, Noto Sans CJK SC", "labelFontSize": 47, "labelColor": "black", "labelLimit": 900
    }
  }
}
